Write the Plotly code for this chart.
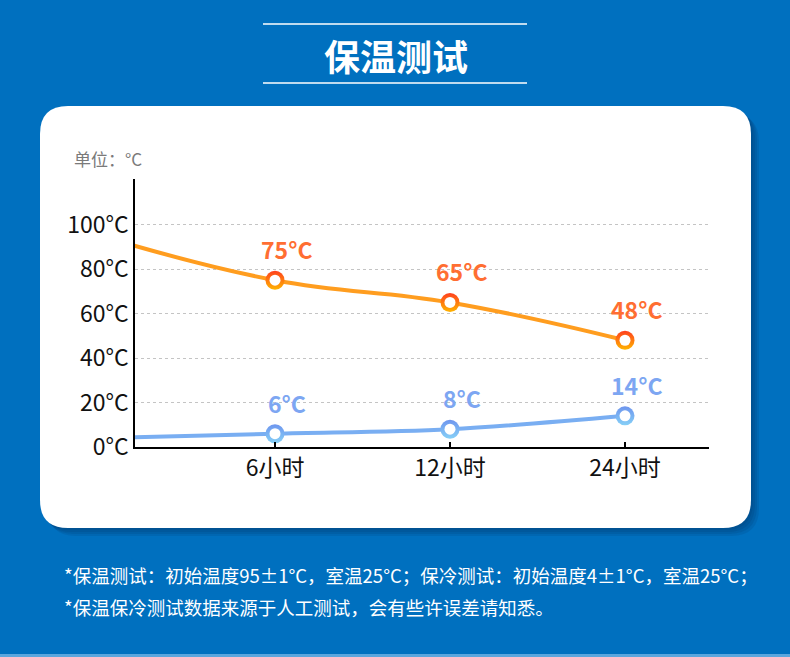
import plotly.graph_objects as go

W, H = 790, 657

# data
x_pos = [0, 1, 2, 3]
hour_labels = ['6小时', '12小时', '24小时']
hot_temp = [95, 75, 65, 48]
cold_temp = [4, 6, 8, 14]
y_ticks = [0, 20, 40, 60, 80, 100]
y_tick_labels = ['0°C', '20°C', '40°C', '60°C', '80°C', '100°C']

FONT = 'Noto Sans CJK SC'
BG = '#0070BF'


def px(x):
    return x / W


def py(y):
    return 1 - y / H


def rounded_rect(x0, y0, x1, y1, r):
    # pixel coords (top-left origin) -> svg path in paper coords
    rx, ry = r / W, r / H
    a, b, c, d = px(x0), py(y0), px(x1), py(y1)
    return (f'M{a + rx},{b} L{c - rx},{b} Q{c},{b} {c},{b - ry} '
            f'L{c},{d + ry} Q{c},{d} {c - rx},{d} L{a + rx},{d} '
            f'Q{a},{d} {a},{d + ry} L{a},{b - ry} Q{a},{b} {a + rx},{b} Z')


def note(x, y, text, size, color, anchor='center', weight='normal'):
    return dict(x=px(x), y=py(y), xref='paper', yref='paper', text=text, showarrow=False,
                xanchor=anchor, yanchor='middle',
                font=dict(family=FONT, size=size, color=color, weight=weight))


fig = go.Figure()

# lines
fig.add_trace(go.Scatter(x=x_pos, y=hot_temp, mode='lines',
                         line=dict(color='#FF9D1F', width=4, shape='spline', smoothing=1.2),
                         hoverinfo='skip'))
fig.add_trace(go.Scatter(x=x_pos, y=cold_temp, mode='lines',
                         line=dict(color='#79AEF2', width=4, shape='spline', smoothing=1),
                         hoverinfo='skip'))

# markers: gradient ring + white centre
for vals, c1, c2 in [(hot_temp, '#FF3F1E', '#FFB400'), (cold_temp, '#6E95EE', '#86D0F7')]:
    fig.add_trace(go.Scatter(x=x_pos[1:], y=vals[1:], mode='markers',
                             marker=dict(size=19, color=c1, gradient=dict(type='vertical', color=c2),
                                         line=dict(width=0)),
                             hoverinfo='skip'))
    fig.add_trace(go.Scatter(x=x_pos[1:], y=vals[1:], mode='markers',
                             marker=dict(size=11, color='white', line=dict(width=0)),
                             hoverinfo='skip'))

annotations = []
for vals, col in [(hot_temp, '#FF6E32'), (cold_temp, '#7DA6F2')]:
    for xv, yv in zip(x_pos[1:], vals[1:]):
        annotations.append(dict(x=xv, y=yv, xref='x', yref='y', text=f'{yv}°C',
                                showarrow=False, xshift=12, yshift=31,
                                font=dict(family=FONT, size=23, color=col, weight='bold')))

annotations += [
    note(396, 55, '保温测试', 36, 'white', weight='bold'),
    note(72, 159, '单位：°C', 17, '#7A7A7A', anchor='left'),
    note(62, 575, '*保温测试：初始温度95±1°C，室温25°C；保冷测试：初始温度4±1°C，室温25°C；',
         18.5, 'white', anchor='left'),
    note(62, 607, '*保温保冷测试数据来源于人工测试，会有些许误差请知悉。', 18.5, 'white', anchor='left'),
]

shapes = []
# card shadow
for i in range(4):
    o = 2 + i * 2
    shapes.append(dict(type='path', xref='paper', yref='paper', layer='below',
                       path=rounded_rect(40 + o, 106 + o, 751 + o, 528 + o, 28),
                       fillcolor='rgba(0,30,70,0.10)', line=dict(width=0)))
shapes.append(dict(type='path', xref='paper', yref='paper', layer='below',
                   path=rounded_rect(40, 106, 751, 528, 28),
                   fillcolor='white', line=dict(width=0)))
# title rules
for yy in [24, 83]:
    shapes.append(dict(type='line', xref='paper', yref='paper', x0=px(263), x1=px(527),
                       y0=py(yy), y1=py(yy), line=dict(color='white', width=1.3)))
# bottom strip
shapes.append(dict(type='rect', xref='paper', yref='paper', x0=0, x1=1, y0=0, y1=py(654),
                   fillcolor='#5AA6DE', line=dict(width=0), layer='below'))

fig.update_layout(
    width=W, height=H, autosize=False,
    margin=dict(l=0, r=0, t=0, b=0, autoexpand=False),
    paper_bgcolor=BG, plot_bgcolor='rgba(0,0,0,0)',
    showlegend=False,
    shapes=shapes, annotations=annotations,
    xaxis=dict(domain=[px(135), px(709)], range=[0.2, 3.48],
               tickvals=x_pos[1:], ticktext=hour_labels, automargin=False,
               showgrid=False, zeroline=False, showline=True, linecolor='black', linewidth=1.5,
               ticks='inside', ticklen=5, tickwidth=1.5, tickcolor='black',
               tickfont=dict(family=FONT, size=23, color='#111111'), fixedrange=True),
    yaxis=dict(domain=[py(447), py(179)], range=[0, 120.5],
               tickvals=y_ticks, ticktext=y_tick_labels, automargin=False,
               showgrid=True, gridcolor='#C4C4C4', griddash='3px,3px', gridwidth=1,
               zeroline=False, showline=True, linecolor='black', linewidth=1.5,
               ticks='', tickfont=dict(family=FONT, size=23, color='#111111'), fixedrange=True),
)

fig.write_html('out.html', config={'displayModeBar': False},
               post_script="document.body.style.margin='0';document.body.style.overflow='hidden';")
